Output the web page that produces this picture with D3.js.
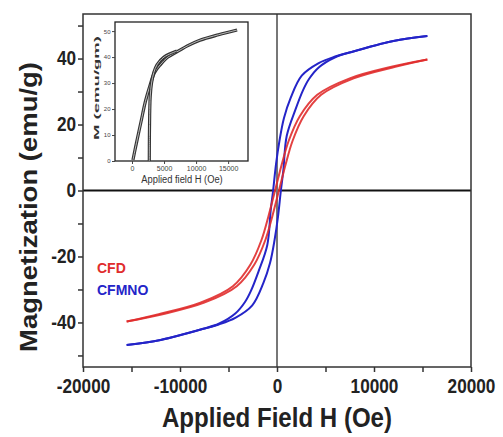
<!DOCTYPE html>
<html>
<head>
<meta charset="utf-8">
<script src="https://cdn.jsdelivr.net/npm/d3@7"></script>
<style>
  html, body { margin: 0; padding: 0; background: #fff; }
  svg { display: block; }
  text { font-family: "Liberation Sans", Arial, sans-serif; }
</style>
</head>
<body>
<svg id="chart" width="503" height="437"></svg>
<script>
// ---------- data ----------
const xTicks = [-20000, -10000, 0, 10000, 20000];
const xMinorTicks = [-15000, -5000, 5000, 15000];
const yTicks = [-40, -20, 0, 20, 40];
const yMinorTicks = [-50, -30, -10, 10, 30, 50];

const seriesNames = ["CFD", "CFMNO"];

// CFD loop: descending branch (from +H to -H) and ascending branch
const cfdDesc = [[-15500,-39.7],[-12200,-37.5],[-7900,-34],[-4550,-29],[-2750,-22.5],[-1600,-15],[-900,-8],[-500,-3.5],[-200,0],[100,3.5],[500,8],[1200,15],[2350,22.5],[4150,29],[7500,34],[11800,37.5],[15500,39.7]];
const cfdAsc  = [[-15500,-39.7],[-11800,-37.5],[-7500,-34],[-4150,-29],[-2350,-22.5],[-1200,-15],[-500,-8],[-100,-3.5],[200,0],[500,3.5],[900,8],[1600,15],[2750,22.5],[4550,29],[7900,34],[12200,37.5],[15500,39.7]];

// CFMNO loop
const cfmnoDesc = [[-15500,-46.8],[-12000,-45.3],[-7700,-42],[-6000,-40.4],[-4300,-37.3],[-3300,-33.8],[-2700,-30.5],[-1900,-24.5],[-1000,-16.5],[-650,-6],[-400,0],[-100,8],[250,15],[720,22],[1400,28],[2550,34.8],[4300,38.6],[6000,40.6],[7700,42],[12000,45.3],[15500,46.8]];
const cfmnoAsc  = [[-15500,-46.8],[-12000,-45.3],[-7700,-42],[-6000,-40.6],[-4300,-38.6],[-2550,-34.8],[-1400,-28],[-720,-22],[-250,-15],[100,-8],[400,0],[650,6],[1000,16.5],[1900,24.5],[2700,30.5],[3300,33.8],[4300,37.3],[6000,40.4],[7700,42],[12000,45.3],[15500,46.8]];

// Inset: first-quadrant M vs H
const insetCurve1 = [[150,0.4],[700,7],[1400,15],[2100,23],[2800,29],[3500,34],[4400,37],[5600,40],[7000,42],[8800,44.5],[10600,46.5],[13500,48.6],[16400,50.4]];
const insetCurve2 = [[2700,0],[2720,10],[2760,18],[2850,25],[3050,30],[3400,34],[3900,37],[5000,40],[7000,42.3]];
const insetXTicks = [0, 5000, 10000, 15000];
const insetYTicks = [0, 10, 20, 30, 40, 50];

// ---------- layout ----------
const svg = d3.select("#chart");
const L = 83, R = 471, T = 14, B = 367;
const x = d3.scaleLinear().domain([-20000, 20000]).range([L, R]);
const y = d3.scaleLinear().domain([-53.5, 53.5]).range([B, T]);
const SX = 0.86; // horizontal squeeze of text in the reference
const fmt = d => String(d);

// minor ticks
svg.append("g").attr("transform", `translate(0,${B})`)
  .call(d3.axisBottom(x).tickValues(xMinorTicks).tickSize(5).tickFormat(""))
  .call(g => { g.select(".domain").remove(); g.selectAll("line").attr("stroke", "#333").attr("stroke-width", 1.5); });
svg.append("g").attr("transform", `translate(${L},0)`)
  .call(d3.axisLeft(y).tickValues(yMinorTicks).tickSize(5).tickFormat(""))
  .call(g => { g.select(".domain").remove(); g.selectAll("line").attr("stroke", "#333").attr("stroke-width", 1.5); });

// major axes
const xAxis = svg.append("g").attr("transform", `translate(0,${B})`)
  .call(d3.axisBottom(x).tickValues(xTicks).tickSize(5).tickPadding(7).tickFormat(fmt));
xAxis.select(".domain").remove();
xAxis.selectAll("line").attr("stroke", "#333").attr("stroke-width", 1.5);
xAxis.selectAll("text").attr("font-size", 20).attr("font-weight", "bold").attr("fill", "#222")
  .attr("transform", `scale(${SX},1)`);

const yAxis = svg.append("g").attr("transform", `translate(${L},0)`)
  .call(d3.axisLeft(y).tickValues(yTicks).tickSize(5).tickPadding(3).tickFormat(fmt));
yAxis.select(".domain").remove();
yAxis.selectAll("line").attr("stroke", "#333").attr("stroke-width", 1.5);
yAxis.selectAll("text").attr("font-size", 20).attr("font-weight", "bold").attr("fill", "#222")
  .attr("transform", `scale(${SX},1)`);

// zero lines
svg.append("line").attr("x1", L).attr("x2", R).attr("y1", y(0)).attr("y2", y(0))
  .attr("stroke", "#111").attr("stroke-width", 1.8);
svg.append("line").attr("x1", x(0)).attr("x2", x(0)).attr("y1", T).attr("y2", B)
  .attr("stroke", "#777").attr("stroke-width", 2);

// curves
const line = d3.line().x(d => x(d[0])).y(d => y(d[1])).curve(d3.curveCatmullRom.alpha(0.5));
const blue = "#2424c8", red = "#e02c2c";
[cfmnoDesc, cfmnoAsc].forEach(s => svg.append("path").attr("d", line(s)).attr("fill", "none")
  .attr("stroke", blue).attr("stroke-width", 2));
[cfdDesc, cfdAsc].forEach(s => svg.append("path").attr("d", line(s)).attr("fill", "none")
  .attr("stroke", red).attr("stroke-width", 2).attr("stroke-opacity", 0.9));

// frame
svg.append("rect").attr("x", L).attr("y", T).attr("width", R - L).attr("height", B - T)
  .attr("fill", "none").attr("stroke", "#333").attr("stroke-width", 1.5);

// axis titles
svg.append("text").attr("transform", `translate(277,427) scale(${SX},1)`)
  .attr("text-anchor", "middle").attr("font-size", 28).attr("font-weight", "bold").attr("fill", "#222")
  .text("Applied Field H (Oe)");
svg.append("text").attr("transform", `translate(37,207) scale(${SX},1) rotate(-90)`)
  .attr("text-anchor", "middle").attr("font-size", 27.5).attr("font-weight", "bold").attr("fill", "#222")
  .text("Magnetization (emu/g)");

// legend text
svg.append("text").attr("x", 97).attr("y", 273).attr("font-size", 14).attr("font-weight", "bold")
  .attr("fill", red).text(seriesNames[0]);
svg.append("text").attr("x", 97).attr("y", 295).attr("font-size", 14).attr("font-weight", "bold")
  .attr("fill", blue).text(seriesNames[1]);

// ---------- inset ----------
const iL = 115, iR = 248, iT = 22, iB = 161;
const ix = d3.scaleLinear().domain([-2650, 18100]).range([iL, iR]);
const iy = d3.scaleLinear().domain([0, 53.5]).range([iB, iT]);
const ins = svg.append("g");
ins.append("rect").attr("x", iL).attr("y", iT).attr("width", iR - iL).attr("height", iB - iT)
  .attr("fill", "#fff").attr("stroke", "#222").attr("stroke-width", 1.3);

const ixAxis = ins.append("g").attr("transform", `translate(0,${iB})`)
  .call(d3.axisBottom(ix).tickValues(insetXTicks).tickSize(3).tickPadding(2).tickFormat(fmt));
ixAxis.select(".domain").remove();
ixAxis.selectAll("line").attr("stroke", "#444");
ixAxis.selectAll("text").attr("font-size", 7).attr("fill", "#444");

const iyAxis = ins.append("g").attr("transform", `translate(${iL},0)`)
  .call(d3.axisLeft(iy).tickValues(insetYTicks).tickSize(3).tickPadding(1.5).tickFormat(fmt));
iyAxis.select(".domain").remove();
iyAxis.selectAll("line").attr("stroke", "#444");
iyAxis.selectAll("text").attr("font-size", 6).attr("fill", "#444");

const iline = d3.line().x(d => ix(d[0])).y(d => iy(d[1])).curve(d3.curveCatmullRom.alpha(0.5));
[insetCurve1, insetCurve2].forEach(s => {
  ins.append("path").attr("d", iline(s)).attr("fill", "none").attr("stroke", "#333").attr("stroke-width", 3.2);
  ins.append("path").attr("d", iline(s)).attr("fill", "none").attr("stroke", "#bbb").attr("stroke-width", 1);
});

ins.append("text").attr("transform", `translate(182,183) scale(0.85,1)`).attr("text-anchor", "middle")
  .attr("font-size", 11).attr("fill", "#333").text("Applied field H (Oe)");
ins.append("text").attr("transform", `translate(99,88) rotate(-90)`).attr("text-anchor", "middle")
  .attr("font-size", 7.5).attr("font-weight", "bold").attr("fill", "#333")
  .attr("textLength", 104).attr("lengthAdjust", "spacingAndGlyphs").text("M (emu/gm)");
</script>
</body>
</html>
